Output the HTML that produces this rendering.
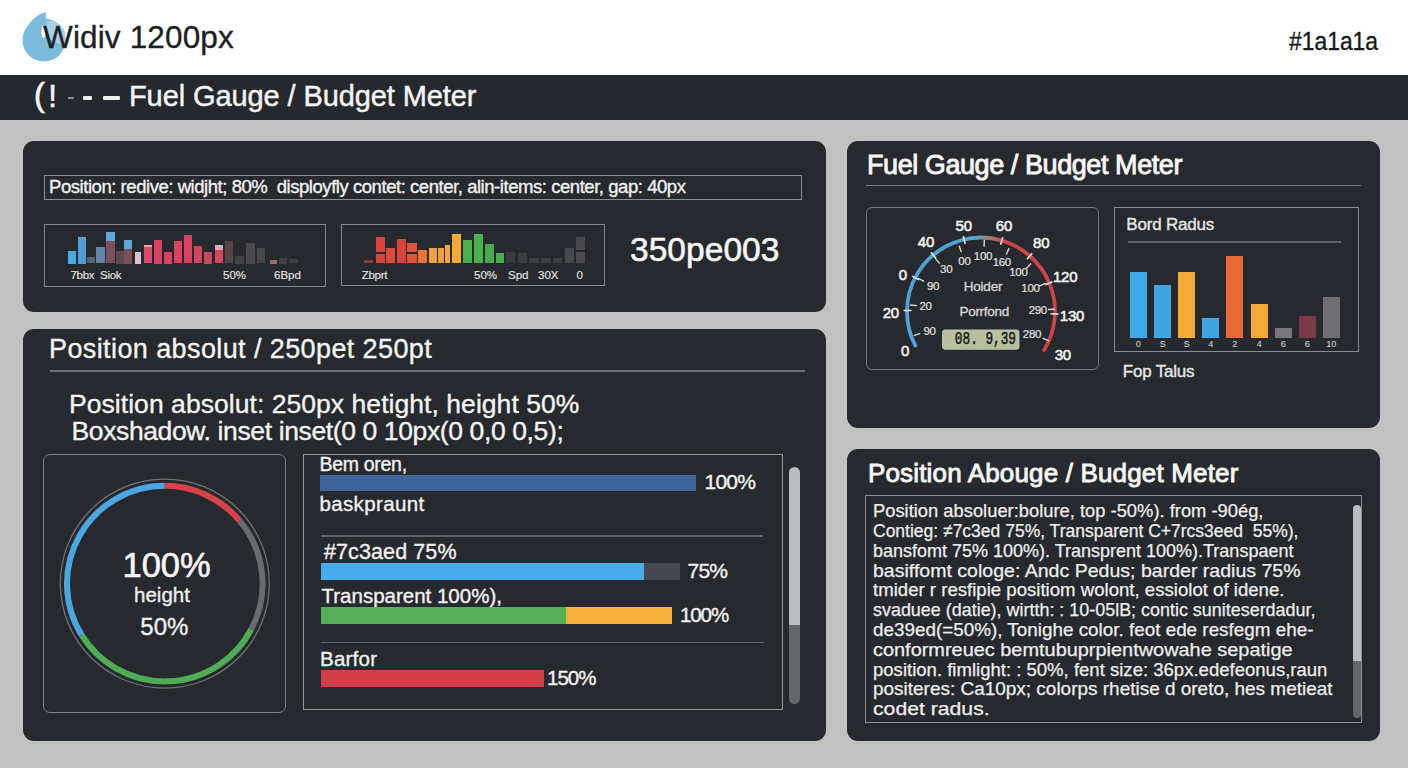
<!DOCTYPE html>
<html><head><meta charset="utf-8">
<style>
html,body{margin:0;padding:0;}
body{width:1408px;height:768px;position:relative;overflow:hidden;background:#c1c1c1;font-family:"Liberation Sans",sans-serif;}
.t{position:absolute;line-height:1;white-space:pre;font-family:"Liberation Sans",sans-serif;-webkit-text-stroke:0.35px currentColor;}
.r{position:absolute;}
</style></head><body>
<div class="r" style="left:0.0px;top:0.0px;width:1408.0px;height:74.5px;background:#ffffff;"></div>
<svg class="r" style="left:0;top:0" width="120" height="74" viewBox="0 0 120 74">
<circle cx="44" cy="40" r="21.5" fill="#7bb9dd"/>
<path d="M24 34 Q30 17 45.5 12 L46.5 24 Z" fill="#7bb9dd"/>
<path d="M46.5 21.5 Q60 19 65.3 33 L65.3 46 Q56 44 47 37 Z" fill="#a9d0e6"/>
<ellipse cx="43.5" cy="31.5" rx="2.2" ry="6.5" fill="#ffffff"/>
</svg>
<div class="t" style="left:43.0px;top:21.9px;font-size:31.5px;color:#1c1f23;font-weight:400;letter-spacing:0.15px;">Widiv 1200px</div>
<div class="t" style="left:1288.5px;top:28.0px;font-size:26px;color:#16181b;font-weight:400;letter-spacing:0px;transform:scaleX(0.88);transform-origin:0 0;">#1a1a1a</div>
<div class="r" style="left:0.0px;top:74.5px;width:1408.0px;height:45.1px;background:#25282c;"></div>
<div class="t" style="left:34.0px;top:79.0px;font-size:32.5px;color:#f4f4f4;font-weight:400;letter-spacing:0px;-webkit-text-stroke:0.7px currentColor;">(</div>
<div class="t" style="left:48.3px;top:81.0px;font-size:31px;color:#f4f4f4;font-weight:400;letter-spacing:0px;-webkit-text-stroke:0.6px currentColor;">!</div>
<div class="r" style="left:67.6px;top:96.5px;width:6.0px;height:2.5px;background:#8d8f92;"></div>
<div class="r" style="left:83.4px;top:96.0px;width:8.6px;height:3.6px;background:#eeeeee;border-radius:1px;"></div>
<div class="r" style="left:102.6px;top:96.0px;width:17.4px;height:3.6px;background:#eeeeee;border-radius:1px;"></div>
<div class="t" style="left:129.0px;top:82.0px;font-size:29px;color:#f4f4f4;font-weight:400;letter-spacing:-0.1px;-webkit-text-stroke:0.45px currentColor;">Fuel Gauge / Budget Meter</div>
<div class="r" style="left:22.5px;top:141.0px;width:803.5px;height:171.0px;background:#26292d;border-radius:11px;"></div>
<div class="r" style="left:22.5px;top:329.0px;width:803.5px;height:411.5px;background:#26292d;border-radius:11px;"></div>
<div class="r" style="left:847.0px;top:141.0px;width:533.0px;height:286.5px;background:#26292d;border-radius:11px;"></div>
<div class="r" style="left:847.0px;top:448.5px;width:533.0px;height:292.0px;background:#26292d;border-radius:11px;"></div>
<div class="r" style="left:44.0px;top:174.5px;width:757.5px;height:25.5px;box-sizing:border-box;border:1.6px solid #8d9094;border-radius:0px;"></div>
<div class="t" style="left:49.0px;top:178.1px;font-size:18.5px;color:#f2f2f2;font-weight:400;letter-spacing:-0.45px;">Position: redive: widjht; 80%  disployfly contet: center, alin-items: center, gap: 40px</div>
<div class="r" style="left:44.0px;top:224.0px;width:282.0px;height:63.0px;box-sizing:border-box;border:1.5px solid #85888c;border-radius:0px;"></div>
<div class="r" style="left:340.5px;top:224.0px;width:264.5px;height:62.0px;box-sizing:border-box;border:1.5px solid #85888c;border-radius:0px;"></div>
<div class="r" style="left:67.8px;top:251.0px;width:8.2px;height:12.5px;background:#4ba9e2;"></div>
<div class="r" style="left:78.0px;top:236.5px;width:7.7px;height:27.0px;background:#4d9fd6;"></div>
<div class="r" style="left:87.0px;top:256.7px;width:7.6px;height:6.8px;background:#556577;"></div>
<div class="r" style="left:96.0px;top:246.8px;width:9.0px;height:16.7px;background:#6485a6;"></div>
<div class="r" style="left:106.0px;top:231.7px;width:9.0px;height:31.8px;background:#7a4f5e;"></div>
<div class="r" style="left:115.8px;top:251.0px;width:8.2px;height:12.5px;background:#5b4a4f;"></div>
<div class="r" style="left:124.4px;top:240.0px;width:7.6px;height:23.5px;background:#7a4f5e;"></div>
<div class="r" style="left:134.7px;top:252.0px;width:6.8px;height:11.5px;background:#dcbfd0;"></div>
<div class="r" style="left:144.0px;top:244.7px;width:8.0px;height:18.8px;background:#d94b6b;"></div>
<div class="r" style="left:153.7px;top:240.0px;width:8.3px;height:23.5px;background:#d8415f;"></div>
<div class="r" style="left:163.6px;top:252.0px;width:8.2px;height:11.5px;background:#d8415f;"></div>
<div class="r" style="left:173.5px;top:240.6px;width:8.2px;height:22.9px;background:#d8415f;"></div>
<div class="r" style="left:183.5px;top:234.8px;width:8.5px;height:28.7px;background:#d8415f;"></div>
<div class="r" style="left:194.0px;top:246.4px;width:8.0px;height:17.1px;background:#d4425d;"></div>
<div class="r" style="left:204.0px;top:252.0px;width:8.0px;height:11.5px;background:#c9485e;"></div>
<div class="r" style="left:214.7px;top:244.7px;width:8.3px;height:18.8px;background:#d24a62;"></div>
<div class="r" style="left:224.8px;top:240.6px;width:8.2px;height:22.9px;background:#574548;"></div>
<div class="r" style="left:235.0px;top:256.0px;width:9.0px;height:7.5px;background:#434244;"></div>
<div class="r" style="left:246.0px;top:243.0px;width:9.0px;height:20.5px;background:#4a494b;"></div>
<div class="r" style="left:257.0px;top:247.8px;width:8.0px;height:15.7px;background:#474648;"></div>
<div class="r" style="left:269.7px;top:260.0px;width:7.2px;height:3.5px;background:#9c6a72;"></div>
<div class="r" style="left:279.0px;top:257.5px;width:7.7px;height:6.0px;background:#403f42;"></div>
<div class="r" style="left:289.0px;top:258.7px;width:8.5px;height:4.8px;background:#3e3e41;"></div>
<div class="r" style="left:106.0px;top:231.7px;width:9.0px;height:8.9px;background:#5ea8dc;"></div>
<div class="r" style="left:124.4px;top:240.0px;width:7.6px;height:8.8px;background:#5ea8dc;"></div>
<div class="r" style="left:214.7px;top:244.7px;width:8.3px;height:5.3px;background:#e8a7b8;"></div>
<div class="r" style="left:144.0px;top:244.7px;width:8.0px;height:2.3px;background:#f0a0b0;"></div>
<div class="t" style="left:70.5px;top:270.0px;font-size:11.5px;color:#e6e6e6;font-weight:400;letter-spacing:-0.3px;-webkit-text-stroke:0.15px currentColor;">7bbx  Siok</div>
<div class="t" style="left:223.0px;top:270.0px;font-size:11.5px;color:#e6e6e6;font-weight:400;letter-spacing:0px;-webkit-text-stroke:0.15px currentColor;">50%</div>
<div class="t" style="left:274.0px;top:270.0px;font-size:11.5px;color:#e6e6e6;font-weight:400;letter-spacing:0px;-webkit-text-stroke:0.15px currentColor;">6Bpd</div>
<div class="r" style="left:364.4px;top:259.8px;width:8.4px;height:3.2px;background:#8a3a3a;"></div>
<div class="r" style="left:375.8px;top:237.0px;width:8.9px;height:26.0px;background:#d9433f;"></div>
<div class="r" style="left:386.3px;top:247.8px;width:8.7px;height:15.2px;background:#da4a3c;"></div>
<div class="r" style="left:396.6px;top:239.0px;width:9.0px;height:24.0px;background:#d9443c;"></div>
<div class="r" style="left:407.0px;top:242.9px;width:9.5px;height:20.1px;background:#e05536;"></div>
<div class="r" style="left:418.0px;top:249.8px;width:8.5px;height:13.2px;background:#ea7736;"></div>
<div class="r" style="left:428.5px;top:247.8px;width:8.3px;height:15.2px;background:#f0a23e;"></div>
<div class="r" style="left:438.4px;top:247.8px;width:5.6px;height:15.2px;background:#f0a03c;"></div>
<div class="r" style="left:444.8px;top:244.9px;width:5.2px;height:18.1px;background:#f2a83c;"></div>
<div class="r" style="left:452.0px;top:233.5px;width:9.0px;height:29.5px;background:#f3ab35;"></div>
<div class="r" style="left:463.0px;top:239.9px;width:9.0px;height:23.1px;background:#4caf50;"></div>
<div class="r" style="left:473.8px;top:233.9px;width:9.2px;height:29.1px;background:#4caf50;"></div>
<div class="r" style="left:485.0px;top:243.9px;width:8.7px;height:19.1px;background:#4baa4f;"></div>
<div class="r" style="left:495.7px;top:252.8px;width:8.7px;height:10.2px;background:#4caf50;"></div>
<div class="r" style="left:506.4px;top:251.8px;width:8.6px;height:11.2px;background:#3a3c3f;"></div>
<div class="r" style="left:517.5px;top:253.4px;width:9.5px;height:9.6px;background:#3b3d40;"></div>
<div class="r" style="left:529.0px;top:257.8px;width:10.0px;height:5.2px;background:#3d3f42;"></div>
<div class="r" style="left:540.8px;top:257.8px;width:9.9px;height:5.2px;background:#3d3f42;"></div>
<div class="r" style="left:552.7px;top:258.2px;width:9.0px;height:4.8px;background:#3d3f42;"></div>
<div class="r" style="left:565.0px;top:247.8px;width:8.6px;height:15.2px;background:#48494b;"></div>
<div class="r" style="left:576.0px;top:237.0px;width:8.6px;height:26.0px;background:#4a4a4c;"></div>
<div class="r" style="left:375.8px;top:252.0px;width:8.9px;height:1.5px;background:#26292d;"></div>
<div class="r" style="left:407.0px;top:252.0px;width:9.5px;height:1.5px;background:#26292d;"></div>
<div class="r" style="left:576.0px;top:250.0px;width:8.6px;height:1.5px;background:#26292d;"></div>
<div class="t" style="left:361.8px;top:270.0px;font-size:11.5px;color:#e6e6e6;font-weight:400;letter-spacing:-0.3px;-webkit-text-stroke:0.15px currentColor;">Zbprt</div>
<div class="t" style="left:474.0px;top:270.0px;font-size:11.5px;color:#e6e6e6;font-weight:400;letter-spacing:0px;-webkit-text-stroke:0.15px currentColor;">50%</div>
<div class="t" style="left:508.0px;top:270.0px;font-size:11.5px;color:#e6e6e6;font-weight:400;letter-spacing:0px;-webkit-text-stroke:0.15px currentColor;">Spd</div>
<div class="t" style="left:538.0px;top:270.0px;font-size:11.5px;color:#e6e6e6;font-weight:400;letter-spacing:0px;-webkit-text-stroke:0.15px currentColor;">30X</div>
<div class="t" style="left:576.6px;top:270.0px;font-size:11.5px;color:#e6e6e6;font-weight:400;letter-spacing:0px;-webkit-text-stroke:0.15px currentColor;">0</div>
<div class="t" style="left:630.0px;top:233.0px;font-size:33.5px;color:#f6f6f6;font-weight:400;letter-spacing:0.05px;-webkit-text-stroke:0.6px currentColor;">350pe003</div>
<div class="t" style="left:49.0px;top:335.5px;font-size:27px;color:#f4f4f4;font-weight:400;letter-spacing:0.4px;">Position absolut / 250pet 250pt</div>
<div class="r" style="left:50.0px;top:370.3px;width:755.0px;height:1.5px;background:#6d7074;"></div>
<div class="t" style="left:69.0px;top:391.4px;font-size:26.5px;color:#f4f4f4;font-weight:400;letter-spacing:0.05px;">Position absolut: 250px hetight, height 50%</div>
<div class="t" style="left:71.5px;top:418.2px;font-size:26.5px;color:#f4f4f4;font-weight:400;letter-spacing:-0.38px;">Boxshadow. inset inset(0 0 10px(0 0,0 0,5);</div>
<div class="r" style="left:42.8px;top:454.2px;width:243.2px;height:259.3px;box-sizing:border-box;border:1.5px solid #7f8286;border-radius:7px;"></div>
<svg class="r" style="left:0;top:0" width="300" height="740" viewBox="0 0 300 740">
<circle cx="164.8" cy="583.6" r="104.5" fill="none" stroke="#707377" stroke-width="1.3"/>
<g fill="none" stroke-width="6" transform="rotate(-90 164.8 583.6)">
<path d="M112.97 500.66 A97.8 97.8 0 0 1 262.60 583.60" stroke="#4aa7e2"/>
<path d="M262.60 583.60 A97.8 97.8 0 0 1 227.66 658.52" stroke="#d6444a"/>
<path d="M227.66 658.52 A97.8 97.8 0 0 1 118.89 669.95" stroke="#6a6b6e"/>
<path d="M118.89 669.95 A97.8 97.8 0 0 1 112.97 500.66" stroke="#4fae55"/>
</g>
</svg>
<div class="t" style="left:16.6px;width:300px;text-align:center;top:548.1px;font-size:34.5px;color:#f6f6f6;font-weight:400;letter-spacing:0px;-webkit-text-stroke:0.6px currentColor;">100%</div>
<div class="t" style="left:12.0px;width:300px;text-align:center;top:584.6px;font-size:20.5px;color:#f0f0f0;font-weight:400;letter-spacing:0px;">height</div>
<div class="t" style="left:14.4px;width:300px;text-align:center;top:615.3px;font-size:24px;color:#f0f0f0;font-weight:400;letter-spacing:0px;">50%</div>
<div class="r" style="left:303.2px;top:454.0px;width:479.5px;height:255.5px;box-sizing:border-box;border:1.6px solid #95989b;border-radius:0px;"></div>
<div class="r" style="left:789.0px;top:466.6px;width:11.0px;height:163.4px;background:#bcbdbf;border-radius:5.5px 5.5px 0 0;"></div>
<div class="r" style="left:789.0px;top:625.3px;width:11.0px;height:78.3px;background:#656669;border-radius:0 0 5.5px 5.5px;"></div>
<div class="t" style="left:319.5px;top:455.0px;font-size:19.5px;color:#f2f2f2;font-weight:400;letter-spacing:-0.3px;">Bem oren,</div>
<div class="r" style="left:320.0px;top:475.4px;width:375.8px;height:16.0px;background:#3f6699;"></div>
<div class="t" style="left:704.5px;top:471.2px;font-size:21px;color:#f2f2f2;font-weight:400;letter-spacing:-0.8px;">100%</div>
<div class="t" style="left:319.5px;top:494.1px;font-size:20.5px;color:#f2f2f2;font-weight:400;letter-spacing:0.35px;">baskpraunt</div>
<div class="r" style="left:321.0px;top:535.3px;width:442.0px;height:1.5px;background:#606367;"></div>
<div class="t" style="left:324.0px;top:541.6px;font-size:21.5px;color:#f2f2f2;font-weight:400;letter-spacing:0.1px;">#7c3aed 75%</div>
<div class="r" style="left:321.0px;top:563.3px;width:322.6px;height:16.7px;background:#46acec;"></div>
<div class="r" style="left:643.6px;top:563.3px;width:36.2px;height:16.7px;background:#45484f;"></div>
<div class="t" style="left:687.5px;top:560.2px;font-size:21px;color:#f2f2f2;font-weight:400;letter-spacing:-0.75px;">75%</div>
<div class="t" style="left:321.5px;top:586.1px;font-size:20.5px;color:#f2f2f2;font-weight:400;letter-spacing:0px;">Transparent 100%),</div>
<div class="r" style="left:321.0px;top:607.0px;width:244.7px;height:17.0px;background:#56b05b;"></div>
<div class="r" style="left:565.7px;top:607.0px;width:106.5px;height:17.0px;background:#f6b13c;"></div>
<div class="t" style="left:680.0px;top:604.8px;font-size:20.5px;color:#f2f2f2;font-weight:400;letter-spacing:-1.1px;">100%</div>
<div class="r" style="left:321.0px;top:641.5px;width:442.5px;height:1.5px;background:#606367;"></div>
<div class="t" style="left:320.0px;top:649.2px;font-size:20.5px;color:#f2f2f2;font-weight:400;letter-spacing:0.24px;">Barfor</div>
<div class="r" style="left:321.0px;top:670.3px;width:223.0px;height:17.0px;background:#d33e4a;"></div>
<div class="t" style="left:547.0px;top:668.1px;font-size:20.5px;color:#f2f2f2;font-weight:400;letter-spacing:-1.0px;">150%</div>
<div class="t" style="left:867.0px;top:152.1px;font-size:27px;color:#f6f6f6;font-weight:400;letter-spacing:-0.43px;-webkit-text-stroke:0.9px currentColor;">Fuel Gauge / Budget Meter</div>
<div class="r" style="left:866.0px;top:184.8px;width:495.0px;height:1.5px;background:#74777b;"></div>
<div class="r" style="left:865.8px;top:206.6px;width:233.2px;height:163.2px;box-sizing:border-box;border:1.5px solid #74777b;border-radius:6px;"></div>
<svg class="r" style="left:0;top:0" width="1408" height="768" viewBox="0 0 1408 768"><defs><linearGradient id="gt" x1="975" y1="0" x2="1005" y2="0" gradientUnits="userSpaceOnUse"><stop offset="0" stop-color="#56a6da"/><stop offset="0.45" stop-color="#a08070"/><stop offset="1" stop-color="#d0484a"/></linearGradient></defs><path d="M915.30 345.55 A74 74 0 0 1 978.42 237.55" fill="none" stroke="#4fa3d8" stroke-width="3.8" stroke-linecap="round"/><path d="M977.13 237.60 A74 74 0 0 1 1002.64 240.73" fill="none" stroke="url(#gt)" stroke-width="3.8" stroke-linecap="round"/><path d="M1001.40 240.37 A74 74 0 0 1 1044.16 350.05" fill="none" stroke="#cc4448" stroke-width="3.8" stroke-linecap="round"/><line x1="965.16" y1="243.83" x2="963.33" y2="236.04" stroke="#e8e8e8" stroke-width="1.6"/><line x1="936.10" y1="258.45" x2="930.93" y2="252.35" stroke="#e8e8e8" stroke-width="1.6"/><line x1="919.16" y1="279.79" x2="912.04" y2="276.14" stroke="#e8e8e8" stroke-width="1.6"/><line x1="911.51" y1="310.56" x2="903.51" y2="310.46" stroke="#e8e8e8" stroke-width="1.6"/><line x1="1000.56" y1="244.81" x2="1002.82" y2="237.13" stroke="#e8e8e8" stroke-width="1.6"/><line x1="1026.92" y1="259.33" x2="1032.21" y2="253.33" stroke="#e8e8e8" stroke-width="1.6"/><line x1="1045.19" y1="284.86" x2="1052.58" y2="281.80" stroke="#e8e8e8" stroke-width="1.6"/><line x1="1050.46" y1="313.82" x2="1058.46" y2="314.08" stroke="#e8e8e8" stroke-width="1.6"/><line x1="961.40" y1="252.32" x2="959.20" y2="245.68" stroke="#d8d8d8" stroke-width="1.4"/><line x1="984.04" y1="246.80" x2="984.36" y2="239.80" stroke="#d8d8d8" stroke-width="1.4"/><line x1="1006.28" y1="254.50" x2="1009.12" y2="248.10" stroke="#d8d8d8" stroke-width="1.4"/><line x1="939.78" y1="263.65" x2="935.22" y2="258.35" stroke="#d8d8d8" stroke-width="1.4"/><line x1="1026.17" y1="268.42" x2="1031.23" y2="263.58" stroke="#d8d8d8" stroke-width="1.4"/><line x1="924.09" y1="281.43" x2="917.91" y2="278.17" stroke="#d8d8d8" stroke-width="1.4"/><line x1="1039.09" y1="286.20" x2="1045.51" y2="283.40" stroke="#d8d8d8" stroke-width="1.4"/><line x1="917.09" y1="305.62" x2="910.11" y2="304.98" stroke="#d8d8d8" stroke-width="1.4"/><line x1="1048.00" y1="309.50" x2="1055.00" y2="309.30" stroke="#d8d8d8" stroke-width="1.4"/><line x1="920.29" y1="333.32" x2="913.71" y2="335.68" stroke="#d8d8d8" stroke-width="1.4"/><line x1="1042.59" y1="338.11" x2="1049.01" y2="340.89" stroke="#d8d8d8" stroke-width="1.4"/><rect x="942.5" y="329.9" width="76.5" height="19.4" rx="2.5" fill="#b7c0a0" stroke="#c9cfb6" stroke-width="0.8"/></svg>
<div class="t" style="left:813.7px;width:300px;text-align:center;top:217.7px;font-size:15px;color:#f2f2f2;font-weight:400;letter-spacing:-0.2px;-webkit-text-stroke:0.55px currentColor;">50</div>
<div class="t" style="left:854.0px;width:300px;text-align:center;top:217.7px;font-size:15px;color:#f2f2f2;font-weight:400;letter-spacing:-0.2px;-webkit-text-stroke:0.55px currentColor;">60</div>
<div class="t" style="left:776.0px;width:300px;text-align:center;top:233.6px;font-size:15px;color:#f2f2f2;font-weight:400;letter-spacing:-0.2px;-webkit-text-stroke:0.55px currentColor;">40</div>
<div class="t" style="left:891.2px;width:300px;text-align:center;top:234.6px;font-size:15px;color:#f2f2f2;font-weight:400;letter-spacing:-0.2px;-webkit-text-stroke:0.55px currentColor;">80</div>
<div class="t" style="left:752.8px;width:300px;text-align:center;top:267.2px;font-size:15px;color:#f2f2f2;font-weight:400;letter-spacing:-0.2px;-webkit-text-stroke:0.55px currentColor;">0</div>
<div class="t" style="left:915.1px;width:300px;text-align:center;top:269.4px;font-size:15px;color:#f2f2f2;font-weight:400;letter-spacing:-0.2px;-webkit-text-stroke:0.55px currentColor;">120</div>
<div class="t" style="left:740.8px;width:300px;text-align:center;top:305.2px;font-size:15px;color:#f2f2f2;font-weight:400;letter-spacing:-0.2px;-webkit-text-stroke:0.55px currentColor;">20</div>
<div class="t" style="left:922.0px;width:300px;text-align:center;top:308.2px;font-size:15px;color:#f2f2f2;font-weight:400;letter-spacing:-0.2px;-webkit-text-stroke:0.55px currentColor;">130</div>
<div class="t" style="left:755.1px;width:300px;text-align:center;top:343.1px;font-size:15px;color:#f2f2f2;font-weight:400;letter-spacing:-0.2px;-webkit-text-stroke:0.55px currentColor;">0</div>
<div class="t" style="left:912.8px;width:300px;text-align:center;top:346.9px;font-size:15px;color:#f2f2f2;font-weight:400;letter-spacing:-0.2px;-webkit-text-stroke:0.55px currentColor;">30</div>
<div class="t" style="left:814.4px;width:300px;text-align:center;top:255.5px;font-size:11.5px;color:#e2e2e2;font-weight:400;letter-spacing:-0.3px;-webkit-text-stroke:0.2px currentColor;">00</div>
<div class="t" style="left:833.0px;width:300px;text-align:center;top:251.0px;font-size:11.5px;color:#e2e2e2;font-weight:400;letter-spacing:-0.3px;-webkit-text-stroke:0.2px currentColor;">100</div>
<div class="t" style="left:851.8px;width:300px;text-align:center;top:257.2px;font-size:11.5px;color:#e2e2e2;font-weight:400;letter-spacing:-0.3px;-webkit-text-stroke:0.2px currentColor;">160</div>
<div class="t" style="left:796.2px;width:300px;text-align:center;top:264.0px;font-size:11.5px;color:#e2e2e2;font-weight:400;letter-spacing:-0.3px;-webkit-text-stroke:0.2px currentColor;">30</div>
<div class="t" style="left:868.4px;width:300px;text-align:center;top:267.0px;font-size:11.5px;color:#e2e2e2;font-weight:400;letter-spacing:-0.3px;-webkit-text-stroke:0.2px currentColor;">100</div>
<div class="t" style="left:783.0px;width:300px;text-align:center;top:280.7px;font-size:11.5px;color:#e2e2e2;font-weight:400;letter-spacing:-0.3px;-webkit-text-stroke:0.2px currentColor;">90</div>
<div class="t" style="left:880.5px;width:300px;text-align:center;top:283.4px;font-size:11.5px;color:#e2e2e2;font-weight:400;letter-spacing:-0.3px;-webkit-text-stroke:0.2px currentColor;">100</div>
<div class="t" style="left:775.6px;width:300px;text-align:center;top:301.2px;font-size:11.5px;color:#e2e2e2;font-weight:400;letter-spacing:-0.3px;-webkit-text-stroke:0.2px currentColor;">20</div>
<div class="t" style="left:887.8px;width:300px;text-align:center;top:305.0px;font-size:11.5px;color:#e2e2e2;font-weight:400;letter-spacing:-0.3px;-webkit-text-stroke:0.2px currentColor;">290</div>
<div class="t" style="left:779.5px;width:300px;text-align:center;top:326.2px;font-size:11.5px;color:#e2e2e2;font-weight:400;letter-spacing:-0.3px;-webkit-text-stroke:0.2px currentColor;">90</div>
<div class="t" style="left:882.0px;width:300px;text-align:center;top:328.5px;font-size:11.5px;color:#e2e2e2;font-weight:400;letter-spacing:-0.3px;-webkit-text-stroke:0.2px currentColor;">280</div>
<div class="t" style="left:833.0px;width:300px;text-align:center;top:280.4px;font-size:13.5px;color:#d6d6d6;font-weight:400;letter-spacing:-0.2px;">Hoider</div>
<div class="t" style="left:834.2px;width:300px;text-align:center;top:304.6px;font-size:13.5px;color:#d6d6d6;font-weight:400;letter-spacing:-0.3px;">Porrfond</div>
<div class="t" style="left:939.8px;width:90px;text-align:center;top:330.2px;font-size:19px;color:#161a14;font-family:'Liberation Mono',monospace;transform:scaleX(0.67);transform-origin:45px 0;-webkit-text-stroke:0.5px currentColor;">08. 9,39</div>
<div class="r" style="left:1113.7px;top:207.2px;width:245.1px;height:145.3px;box-sizing:border-box;border:1.6px solid #8a8d91;border-radius:0px;"></div>
<div class="t" style="left:1126.3px;top:215.8px;font-size:17px;color:#e8e8e8;font-weight:400;letter-spacing:-0.2px;">Bord Radus</div>
<div class="r" style="left:1127.8px;top:241.3px;width:213.5px;height:1.5px;background:#5f6266;"></div>
<div class="r" style="left:1129.7px;top:272.2px;width:17.3px;height:65.6px;background:#3ea8e8;"></div>
<div class="t" style="left:988.3px;width:300px;text-align:center;top:340.4px;font-size:9px;color:#d0d0d0;font-weight:400;letter-spacing:0px;-webkit-text-stroke:0.1px currentColor;">0</div>
<div class="r" style="left:1154.0px;top:284.9px;width:17.3px;height:52.9px;background:#3fa6e4;"></div>
<div class="t" style="left:1012.7px;width:300px;text-align:center;top:340.4px;font-size:9px;color:#d0d0d0;font-weight:400;letter-spacing:0px;-webkit-text-stroke:0.1px currentColor;">S</div>
<div class="r" style="left:1178.2px;top:272.2px;width:17.3px;height:65.6px;background:#f4aa36;"></div>
<div class="t" style="left:1036.8px;width:300px;text-align:center;top:340.4px;font-size:9px;color:#d0d0d0;font-weight:400;letter-spacing:0px;-webkit-text-stroke:0.1px currentColor;">S</div>
<div class="r" style="left:1202.2px;top:317.5px;width:17.3px;height:20.3px;background:#3fa6e4;"></div>
<div class="t" style="left:1060.8px;width:300px;text-align:center;top:340.4px;font-size:9px;color:#d0d0d0;font-weight:400;letter-spacing:0px;-webkit-text-stroke:0.1px currentColor;">4</div>
<div class="r" style="left:1226.2px;top:255.7px;width:17.3px;height:82.1px;background:#e76a36;"></div>
<div class="t" style="left:1084.8px;width:300px;text-align:center;top:340.4px;font-size:9px;color:#d0d0d0;font-weight:400;letter-spacing:0px;-webkit-text-stroke:0.1px currentColor;">2</div>
<div class="r" style="left:1250.5px;top:304.4px;width:17.3px;height:33.4px;background:#f4aa36;"></div>
<div class="t" style="left:1109.2px;width:300px;text-align:center;top:340.4px;font-size:9px;color:#d0d0d0;font-weight:400;letter-spacing:0px;-webkit-text-stroke:0.1px currentColor;">4</div>
<div class="r" style="left:1274.7px;top:327.9px;width:17.1px;height:9.9px;background:#78787b;"></div>
<div class="t" style="left:1133.2px;width:300px;text-align:center;top:340.4px;font-size:9px;color:#d0d0d0;font-weight:400;letter-spacing:0px;-webkit-text-stroke:0.1px currentColor;">6</div>
<div class="r" style="left:1298.5px;top:316.3px;width:17.3px;height:21.5px;background:#7a3a49;"></div>
<div class="t" style="left:1157.2px;width:300px;text-align:center;top:340.4px;font-size:9px;color:#d0d0d0;font-weight:400;letter-spacing:0px;-webkit-text-stroke:0.1px currentColor;">6</div>
<div class="r" style="left:1322.7px;top:296.5px;width:17.3px;height:41.3px;background:#6f6f71;"></div>
<div class="t" style="left:1181.3px;width:300px;text-align:center;top:340.4px;font-size:9px;color:#d0d0d0;font-weight:400;letter-spacing:0px;-webkit-text-stroke:0.1px currentColor;">10</div>
<div class="t" style="left:1122.8px;top:362.5px;font-size:17px;color:#e8e8e8;font-weight:400;letter-spacing:-0.2px;">Fop Talus</div>
<div class="t" style="left:868.0px;top:459.8px;font-size:26px;color:#f6f6f6;font-weight:400;letter-spacing:0.16px;-webkit-text-stroke:0.9px currentColor;">Position Abouge / Budget Meter</div>
<div class="r" style="left:865.0px;top:494.6px;width:496.5px;height:228.9px;box-sizing:border-box;border:1.6px solid #8d9094;border-radius:0px;"></div>
<div class="r" style="left:1353.0px;top:504.5px;width:8.0px;height:160.5px;background:#bcbdbf;border-radius:4px 4px 0 0;"></div>
<div class="r" style="left:1353.0px;top:660.8px;width:8.0px;height:57.2px;background:#656669;border-radius:0 0 4px 4px;"></div>
<div class="t" style="left:873.0px;top:501.1px;font-size:19px;color:#efefef;font-weight:400;letter-spacing:0px;transform:scaleX(0.9653);transform-origin:0 0;-webkit-text-stroke:0.25px currentColor;">Position absoluer:bolure, top -50%). from -90ég,</div>
<div class="t" style="left:873.0px;top:520.9px;font-size:19px;color:#efefef;font-weight:400;letter-spacing:0px;transform:scaleX(0.9209);transform-origin:0 0;-webkit-text-stroke:0.25px currentColor;">Contieg: ≠7c3ed 75%, Transparent C+7rcs3eed  55%),</div>
<div class="t" style="left:873.0px;top:540.7px;font-size:19px;color:#efefef;font-weight:400;letter-spacing:0px;transform:scaleX(0.947);transform-origin:0 0;-webkit-text-stroke:0.25px currentColor;">bansfomt 75% 100%). Transprent 100%).Transpaent</div>
<div class="t" style="left:873.0px;top:560.5px;font-size:19px;color:#efefef;font-weight:400;letter-spacing:0px;transform:scaleX(1.0283);transform-origin:0 0;-webkit-text-stroke:0.25px currentColor;">basiffomt cologe: Andc Pedus; barder radius 75%</div>
<div class="t" style="left:873.0px;top:580.3px;font-size:19px;color:#efefef;font-weight:400;letter-spacing:0px;transform:scaleX(0.9789);transform-origin:0 0;-webkit-text-stroke:0.25px currentColor;">tmider r resfipie positiom wolont, essiolot of idene.</div>
<div class="t" style="left:873.0px;top:600.1px;font-size:19px;color:#efefef;font-weight:400;letter-spacing:0px;transform:scaleX(0.9436);transform-origin:0 0;-webkit-text-stroke:0.25px currentColor;">svaduee (datie), wirtth: : 10-05lB; contic suniteserdadur,</div>
<div class="t" style="left:873.0px;top:619.9px;font-size:19px;color:#efefef;font-weight:400;letter-spacing:0px;transform:scaleX(0.9924);transform-origin:0 0;-webkit-text-stroke:0.25px currentColor;">de39ed(=50%), Tonighe color. feot ede resfegm ehe-</div>
<div class="t" style="left:873.0px;top:639.7px;font-size:19px;color:#efefef;font-weight:400;letter-spacing:0px;transform:scaleX(1.0482);transform-origin:0 0;-webkit-text-stroke:0.25px currentColor;">conformreuec bemtubuprpientwowahe sepatige</div>
<div class="t" style="left:873.0px;top:659.5px;font-size:19px;color:#efefef;font-weight:400;letter-spacing:0px;transform:scaleX(0.9756);transform-origin:0 0;-webkit-text-stroke:0.25px currentColor;">position. fimlight: : 50%, fent size: 36px.edefeonus,raun</div>
<div class="t" style="left:873.0px;top:679.3px;font-size:19px;color:#efefef;font-weight:400;letter-spacing:0px;transform:scaleX(0.998);transform-origin:0 0;-webkit-text-stroke:0.25px currentColor;">positeres: Ca10px; colorps rhetise d oreto, hes metieat</div>
<div class="t" style="left:873.0px;top:699.1px;font-size:19px;color:#efefef;font-weight:400;letter-spacing:0px;transform:scaleX(1.1154);transform-origin:0 0;-webkit-text-stroke:0.25px currentColor;">codet radus.</div>
</body></html>
